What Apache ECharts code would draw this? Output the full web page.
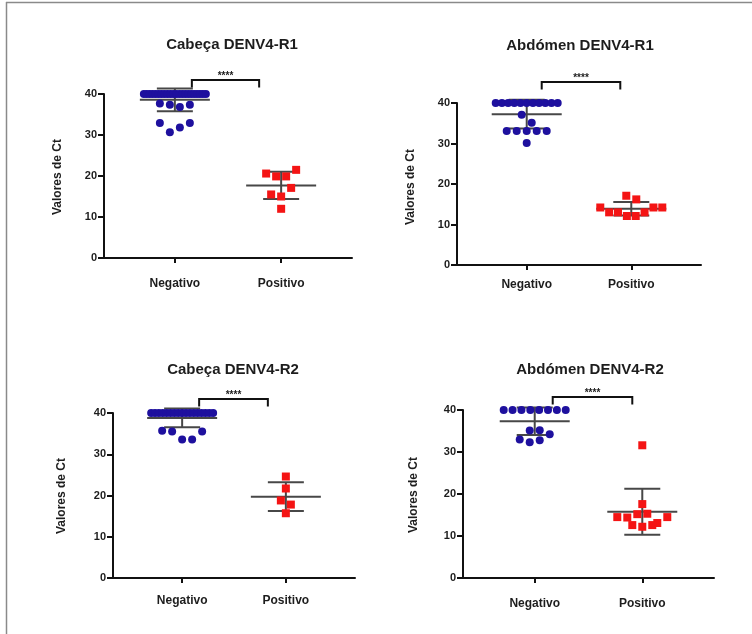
<!DOCTYPE html>
<html>
<head>
<meta charset="utf-8">
<script src="https://cdn.jsdelivr.net/npm/echarts@6/dist/echarts.min.js"></script>
<style>
  html, body { margin: 0; padding: 0; background: #fff; }
  #chart { width: 752px; height: 634px; }
</style>
</head>
<body>
<div id="chart"></div>
<script>
// ---- data -------------------------------------------------------------
const CATEGORIES = ['Negativo', 'Positivo'];
const TITLES = ['Cabeça DENV4-R1', 'Abdómen DENV4-R1', 'Cabeça DENV4-R2', 'Abdómen DENV4-R2'];
const Y_NAME = 'Valores de Ct';
const Y_MIN = 0, Y_MAX = 40, Y_STEP = 10;
const SIG_LABELS = ['****', '****', '****', '****'];

// Ct values per group (order inside a row sets left-to-right placement)
const cabecaR1Neg = [40, 40, 40, 40, 40, 40, 40, 40, 40, 40, 40, 40, 40, 40, 40, 40, 40, 40, 40, 40, 40, 40,
                     37.7, 37.4, 36.8, 37.4, 32.9, 30.7, 31.8, 32.9];
const cabecaR1Pos = [20.6, 19.9, 19.9, 21.5, 15.5, 15.0, 17.1, 12.0];

const abdomenR1Neg = [40, 40, 40, 40, 40, 40, 40, 40, 40, 40, 40,
                      37.1, 35.1, 33.1, 33.1, 33.1, 33.1, 33.1, 30.1];
const abdomenR1Pos = [17.1, 16.2, 14.2, 13.0, 13.0, 12.1, 12.1, 13.0, 14.2, 14.2];

const cabecaR2Neg = [40, 40, 40, 40, 40, 40, 40, 40, 40, 40, 40, 40, 40, 40, 40, 40, 40,
                     35.7, 35.5, 33.6, 33.6, 35.5];
const cabecaR2Pos = [24.6, 21.7, 18.8, 17.8, 15.7];

const abdomenR2Neg = [40, 40, 40, 40, 40, 40, 40, 40,
                      33.0, 35.1, 35.2, 34.2, 32.3, 32.8];
const abdomenR2Pos = [31.6, 17.6, 14.5, 14.4, 15.2, 15.3, 13.1, 14.5, 12.6, 12.2, 12.6];

const PANEL_DATA = [
  [cabecaR1Neg, cabecaR1Pos],
  [abdomenR1Neg, abdomenR1Pos],
  [cabecaR2Neg, cabecaR2Pos],
  [abdomenR2Neg, abdomenR2Pos]
];

// ---- layout & style ---------------------------------------------------
const X_MIN = -2 / 3, X_MAX = 5 / 3;
const LAYOUT = [
  { grid: { left: 104, top: 94,  width: 248, height: 164 }, title: [232, 45],  yName: [58, 177],  labelGap: 20, lift: 14, inset: [17, 22] },
  { grid: { left: 457, top: 103, width: 244, height: 162 }, title: [580, 46],  yName: [411, 187], labelGap: 14, lift: 21, inset: [15, 11] },
  { grid: { left: 113, top: 413, width: 242, height: 165 }, title: [233, 370], yName: [62, 496],  labelGap: 17, lift: 14, inset: [17, 18] },
  { grid: { left: 463, top: 410, width: 251, height: 168 }, title: [590, 370], yName: [414, 495], labelGap: 20, lift: 13, inset: [18, 10] }
];
const GROUP_STYLE = [
  { symbol: 'circle', size: 8, color: '#1e109e' },
  { symbol: 'rect',   size: 8, color: '#f41414' }
];
const ROW_BIN = 2.25;      // values closer than this share one row of dots
const ROW_STEP = 10;       // px between neighbours in a row
const ROW_MAX_WIDTH = 62;  // px, wider rows get squeezed
const TEXT = '#1d1d1d';
const FONT = '"Liberation Sans", Arial, sans-serif';

// ---- helpers ----------------------------------------------------------
function mean(a) { return a.reduce((s, v) => s + v, 0) / a.length; }
function sd(a) {
  const m = mean(a);
  return Math.sqrt(a.reduce((s, v) => s + (v - m) * (v - m), 0) / (a.length - 1));
}
// Horizontal spread (px) of each point: similar values go into a centred row.
function rowOffsets(values) {
  const order = values.map((v, i) => i).sort((a, b) => (values[b] - values[a]) || (a - b));
  const rows = [];
  let cur = null;
  order.forEach(i => {
    if (cur && values[cur.top] - values[i] <= ROW_BIN) cur.items.push(i);
    else { cur = { top: i, items: [i] }; rows.push(cur); }
  });
  const off = new Array(values.length).fill(0);
  rows.forEach(r => {
    r.items.sort((a, b) => a - b);
    const n = r.items.length;
    const step = n > 1 ? Math.min(ROW_STEP, ROW_MAX_WIDTH / (n - 1)) : 0;
    r.items.forEach((idx, k) => { off[idx] = (k - (n - 1) / 2) * step; });
  });
  return off;
}

// ---- option -----------------------------------------------------------
const grids = [], xAxes = [], yAxes = [], series = [], graphics = [];

LAYOUT.forEach((L, p) => {
  grids.push(Object.assign({ containLabel: false }, L.grid));
  xAxes.push({
    type: 'value', gridIndex: p, min: X_MIN, max: X_MAX,
    axisLine: { show: true, onZero: false, lineStyle: { color: '#111', width: 2 } },
    axisTick: { show: true, customValues: [0, 1], length: 5, lineStyle: { color: '#111', width: 2 } },
    axisLabel: {
      show: true, customValues: [0, 1], margin: L.labelGap,
      formatter: v => CATEGORIES[Math.round(v)] || '',
      color: TEXT, fontWeight: 'bold', fontSize: 12, fontFamily: FONT
    },
    splitLine: { show: false }
  });
  yAxes.push({
    type: 'value', gridIndex: p, min: Y_MIN, max: Y_MAX, interval: Y_STEP,
    axisLine: { show: true, onZero: false, lineStyle: { color: '#111', width: 2 } },
    axisTick: { show: true, length: 6, lineStyle: { color: '#111', width: 2 } },
    axisLabel: { show: true, margin: 7, color: TEXT, fontWeight: 'bold', fontSize: 11, fontFamily: FONT },
    splitLine: { show: false }
  });

  const pxPerUnit = L.grid.width / (X_MAX - X_MIN);
  const groups = PANEL_DATA[p];

  // mean ± SD
  series.push({
    type: 'custom', xAxisIndex: p, yAxisIndex: p, clip: false, z: 2, silent: true,
    data: groups.map((g, gi) => [gi, mean(g), sd(g)]),
    renderItem: (params, api) => {
      const x = api.value(0), m = api.value(1), s = api.value(2);
      const c = api.coord([x, m]), hi = api.coord([x, m + s]), lo = api.coord([x, m - s]);
      const st = { stroke: '#474747', lineWidth: 2 };
      return {
        type: 'group', children: [
          { type: 'line', shape: { x1: c[0] - 35, y1: c[1], x2: c[0] + 35, y2: c[1] }, style: st },
          { type: 'line', shape: { x1: c[0], y1: hi[1], x2: c[0], y2: lo[1] }, style: st },
          { type: 'line', shape: { x1: c[0] - 18, y1: hi[1], x2: c[0] + 18, y2: hi[1] }, style: st },
          { type: 'line', shape: { x1: c[0] - 18, y1: lo[1], x2: c[0] + 18, y2: lo[1] }, style: st }
        ]
      };
    }
  });

  // individual values
  groups.forEach((g, gi) => {
    const off = rowOffsets(g);
    series.push({
      type: 'scatter', xAxisIndex: p, yAxisIndex: p, clip: false, z: 3, silent: true,
      symbol: GROUP_STYLE[gi].symbol, symbolSize: GROUP_STYLE[gi].size,
      itemStyle: { color: GROUP_STYLE[gi].color, opacity: 1 },
      data: g.map((v, i) => [gi + off[i] / pxPerUnit, v])
    });
  });

  // significance bracket between the two groups
  series.push({
    type: 'custom', xAxisIndex: p, yAxisIndex: p, clip: false, z: 4, silent: true,
    data: [[0, Y_MAX]],
    renderItem: (params, api) => {
      const a = api.coord([0, api.value(1)]), b = api.coord([1, api.value(1)]);
      const y = a[1] - L.lift, foot = y + 7.5;
      const x1 = a[0] + L.inset[0], x2 = b[0] - L.inset[1];
      return {
        type: 'group', children: [
          { type: 'polyline', shape: { points: [[x1, foot], [x1, y], [x2, y], [x2, foot]] },
            style: { stroke: '#111', lineWidth: 2, fill: null } },
          { type: 'text', x: (x1 + x2) / 2, y: y + 1,
            style: { text: SIG_LABELS[p], fill: TEXT, font: 'bold 10px ' + FONT, align: 'center', verticalAlign: 'bottom' } }
        ]
      };
    }
  });

  // panel title and y-axis name
  graphics.push({
    type: 'text', x: L.title[0], y: L.title[1],
    style: { text: TITLES[p], fill: TEXT, font: 'bold 15px ' + FONT, align: 'center', verticalAlign: 'middle' }
  });
  graphics.push({
    type: 'text', x: L.yName[0], y: L.yName[1], rotation: Math.PI / 2,
    style: { text: Y_NAME, fill: TEXT, font: 'bold 12px ' + FONT, align: 'center', verticalAlign: 'middle' }
  });
});

// page frame
graphics.push({ type: 'line', shape: { x1: 6.5, y1: 2, x2: 6.5, y2: 634 }, style: { stroke: '#8a8a8a', lineWidth: 1.5 } });
graphics.push({ type: 'line', shape: { x1: 6, y1: 2.5, x2: 752, y2: 2.5 }, style: { stroke: '#8a8a8a', lineWidth: 1.5 } });

const chart = echarts.init(document.getElementById('chart'), null, { renderer: 'canvas' });
chart.setOption({
  backgroundColor: '#ffffff',
  animation: false,
  grid: grids, xAxis: xAxes, yAxis: yAxes,
  series: series,
  graphic: graphics
});
</script>
</body>
</html>
